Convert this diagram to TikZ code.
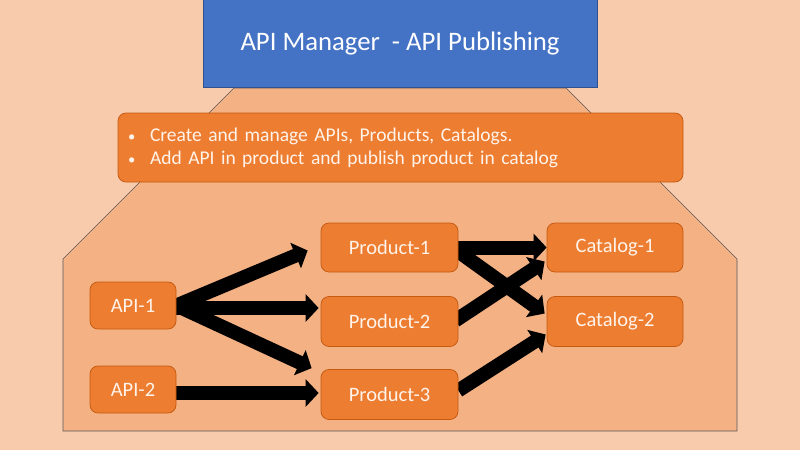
\documentclass[tikz,border=0pt]{standalone}
\usepackage{fontspec}
\setmainfont{Carlito}
\usetikzlibrary{arrows.meta,calc}
\pgfdeclarelayer{bg}
\pgfdeclarelayer{arrowlayer}
\pgfsetlayers{bg,arrowlayer,main}
\definecolor{peach}{HTML}{F8CBAD}
\definecolor{shapefill}{HTML}{F4B183}
\definecolor{orangebox}{HTML}{ED7D31}
\definecolor{orangeedge}{HTML}{C55A11}
\definecolor{bluebox}{HTML}{4472C4}
\definecolor{blueedge}{HTML}{2F528F}
\definecolor{lighttext}{HTML}{FFF3EA}
\definecolor{outline}{HTML}{595959}
\newcommand{\smallbul}{\makebox[20pt][l]{\hspace{-2pt}\scalebox{0.75}{\textbullet}}}
\begin{document}
\begin{tikzpicture}[x=1pt,y=-1pt,
  box/.style={draw=orangeedge, line width=0.75pt, fill=orangebox, rounded corners=8pt,
    text=lighttext, font=\fontsize{20.5}{24}\selectfont, inner sep=0pt},
  blockarrow/.style={line width=14pt, -{Triangle[length=13pt,width=27pt]}, black}]
\useasboundingbox (0,0) rectangle (800,450);
\begin{pgfonlayer}{bg}
  \fill[peach] (0,0) rectangle (800,450);
  \draw[fill=shapefill, draw=outline, line width=0.6pt]
    (63,431) -- (63,259) -- (234,88) -- (566,88) -- (737,259) -- (737,431) -- cycle;
\end{pgfonlayer}

\node[draw=blueedge, line width=0.75pt, fill=bluebox, minimum width=394pt, minimum height=88pt,
  inner sep=0pt, text=white, font=\fontsize{26.7}{30}\selectfont] (title) at (400,43.5)
  {API Manager\ \ - API Publishing};

\node[box, minimum width=565pt, minimum height=69pt, text width=541pt, align=left,
  font=\fontsize{19.5}{23}\selectfont] (info) at (400.5,147.5)
  {\smallbul Create and manage APIs, Products, Catalogs.\\
   \smallbul Add API in product and publish product in catalog};

\node[box, minimum width=86pt, minimum height=47pt] (api1) at (133,305.5) {API-1};
\node[box, minimum width=86pt, minimum height=47pt] (api2) at (133,389.5) {API-2};
\node[box, minimum width=137pt, minimum height=49pt] (p1) at (389.5,247.5) {Product-1};
\node[box, minimum width=137pt, minimum height=50pt] (p2) at (389.5,321.5) {Product-2};
\node[box, minimum width=137pt, minimum height=50pt] (p3) at (389.5,394.5) {Product-3};
\node[box, minimum width=136pt, minimum height=49pt] (c1) at (615,247.5) {Catalog-1};
\node[box, minimum width=136pt, minimum height=50pt] (c2) at (615,321.5) {Catalog-2};

\begin{pgfonlayer}{arrowlayer}
  \draw[blockarrow] (api1.east) -- ($(p1.west)+(-13,3)$);
  \draw[blockarrow] ($(api1.east)+(0,2.5)$) -- ($(p2.west)+(-2,-13.5)$);
  \draw[blockarrow] (api1.east) -- ($(p3.north west)+(-9,-1)$);
  \draw[blockarrow] ($(api2.east)+(0,3.5)$) -- ($(p3.west)+(-2,-1.5)$);
  \draw[blockarrow] (p1.east) -- (c1.west);
  \draw[blockarrow] ($(p1.east)+(0,4)$) -- ($(c2.west)+(-2,-8)$);
  \draw[blockarrow] ($(p2.east)+(-3,-1)$) -- ($(c1.west)+(-2,14)$);
  \draw[blockarrow] ($(p3.east)+(0,-4)$) -- ($(c2.west)+(-1,13)$);
\end{pgfonlayer}
\end{tikzpicture}
\end{document}
